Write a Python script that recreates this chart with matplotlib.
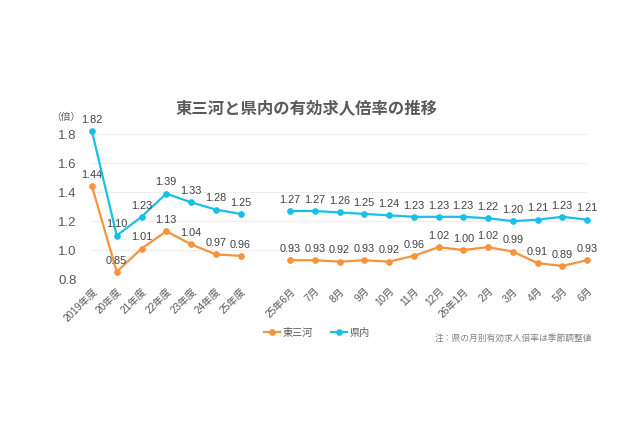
import matplotlib
matplotlib.use("Agg")
import matplotlib.pyplot as plt
from matplotlib.lines import Line2D

plt.rcParams['font.family'] = ['Liberation Sans', 'Noto Sans CJK JP', 'DejaVu Sans']

# 年度データ
nendo_labels = ['2019年度', '20年度', '21年度', '22年度', '23年度', '24年度', '25年度']
higashimikawa_nendo = [1.44, 0.85, 1.01, 1.13, 1.04, 0.97, 0.96]
kennai_nendo = [1.82, 1.10, 1.23, 1.39, 1.33, 1.28, 1.25]

# 月別データ
tsuki_labels = ['25年6月', '7月', '8月', '9月', '10月', '11月', '12月',
                '26年1月', '2月', '3月', '4月', '5月', '6月']
higashimikawa_tsuki = [0.93, 0.93, 0.92, 0.93, 0.92, 0.96, 1.02, 1.00, 1.02, 0.99, 0.91, 0.89, 0.93]
kennai_tsuki = [1.27, 1.27, 1.26, 1.25, 1.24, 1.23, 1.23, 1.23, 1.22, 1.20, 1.21, 1.23, 1.21]

y_ticks = [0.8, 1.0, 1.2, 1.4, 1.6, 1.8]

color_hm = '#F5943C'
color_kn = '#19C0E6'
gray = '#595959'


def dibujar_serie(ax, xs, ys, color):
    ax.plot(xs, ys, color=color, lw=1.6, marker='o', ms=3.8, clip_on=False, zorder=3)
    for x, y in zip(xs, ys):
        ax.annotate(f'{y:.2f}', (x, y), xytext=(0, 4.5), textcoords='offset points',
                    ha='center', va='bottom', fontsize=7.8, color='#404040')


fig = plt.figure(figsize=(6.3, 4.3), dpi=100)
ax = fig.add_axes([92 / 630, 1 - 279 / 430, (587 - 92) / 630, (279 - 130) / 430])

x_nendo = list(range(len(nendo_labels)))
x_tsuki = [len(nendo_labels) + 1 + i for i in range(len(tsuki_labels))]

dibujar_serie(ax, x_nendo, higashimikawa_nendo, color_hm)
dibujar_serie(ax, x_tsuki, higashimikawa_tsuki, color_hm)
dibujar_serie(ax, x_nendo, kennai_nendo, color_kn)
dibujar_serie(ax, x_tsuki, kennai_tsuki, color_kn)

ax.set_xlim(0, x_tsuki[-1])
ax.set_ylim(0.8, 1.83)
ax.set_yticks(y_ticks)
ax.set_yticklabels([f'{v:.1f}' for v in y_ticks], fontsize=9.5, color=gray)
ax.set_xticks(x_nendo + x_tsuki)
ax.set_xticklabels(nendo_labels + tsuki_labels, rotation=45, ha='right', va='top',
                   rotation_mode='anchor', fontsize=7.3, color=gray)
ax.tick_params(axis='both', length=0)
ax.tick_params(axis='y', pad=11)
ax.tick_params(axis='x', pad=5)
ax.grid(axis='y', color='#EDEDED', lw=0.8)
ax.set_axisbelow(True)
for s in ax.spines.values():
    s.set_visible(False)

fig.text(307 / 630, 1 - 108 / 430, '東三河と県内の有効求人倍率の推移', ha='center', va='center',
         fontsize=11.8, fontweight='bold', color=gray)
fig.text(80 / 630, 1 - 117 / 430, '（倍）', ha='right', va='center', fontsize=7, color=gray)

handles = [Line2D([], [], color=color_hm, lw=1.6, marker='o', ms=3.8),
           Line2D([], [], color=color_kn, lw=1.6, marker='o', ms=3.8)]
fig.legend(handles, ['東三河', '県内'], loc='center left', bbox_to_anchor=(255 / 630, 1 - 333 / 430),
           ncol=2, frameon=False, fontsize=7.3, handlelength=1.6, handletextpad=0.2,
           columnspacing=1.8, labelcolor=gray)
fig.text(592 / 630, 1 - 338 / 430, '注：県の月別有効求人倍率は季節調整値', ha='right', va='center',
         fontsize=6.3, color='#7F7F7F')

fig.savefig('out.png', dpi=100)
